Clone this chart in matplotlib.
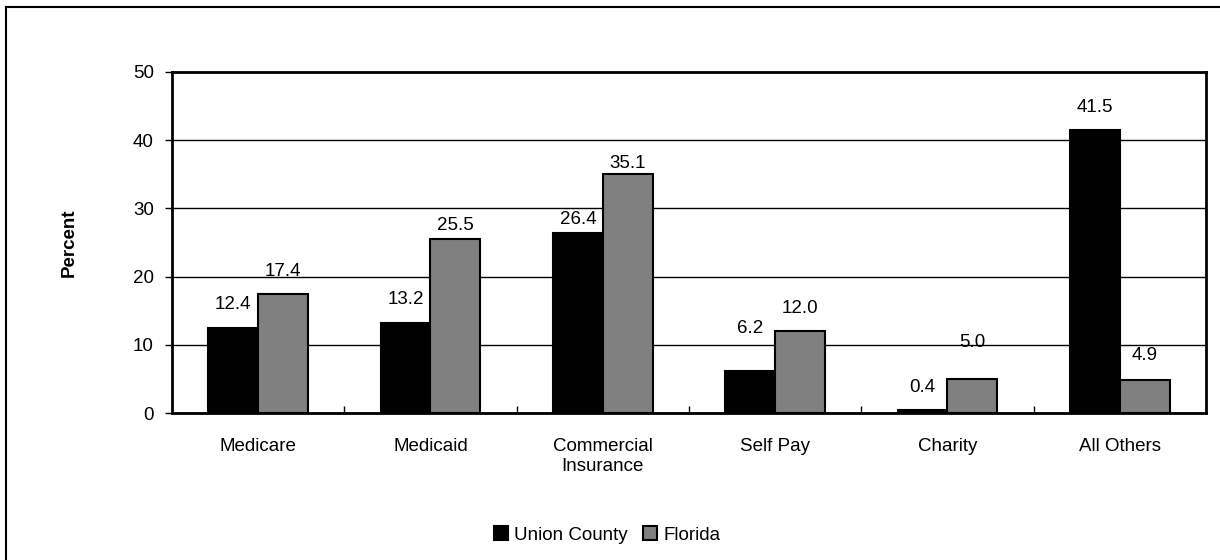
import numpy as np
import matplotlib
matplotlib.use('Agg')
import matplotlib.pyplot as plt
from matplotlib.lines import Line2D

plt.rcParams['font.family'] = ['Liberation Sans', 'DejaVu Sans']

categories = ['Medicare', 'Medicaid', 'Commercial\nInsurance', 'Self Pay', 'Charity', 'All Others']
union_county = [12.4, 13.2, 26.4, 6.2, 0.4, 41.5]
florida = [17.4, 25.5, 35.1, 12.0, 5.0, 4.9]
series_names = ['Union County', 'Florida']

# label lift above each bar top, in pixels (as placed in the original)
lift_union = [24, 23, 13, 42, 23, 22]
lift_florida = [23, 14, 10, 23, 36, 24]

FS = 13.5

fig = plt.figure(figsize=(12.2, 5.6), dpi=100)
ax = fig.add_axes([172 / 1220, 1 - 413 / 560, (1206 - 172) / 1220, (413 - 72) / 560])

# outer frame (left and top only visible)
fig.add_artist(Line2D([6 / 1220, 6 / 1220], [0, 1 - 7 / 560], transform=fig.transFigure, color='black', lw=1.5))
fig.add_artist(Line2D([6 / 1220, 1], [1 - 7 / 560, 1 - 7 / 560], transform=fig.transFigure, color='black', lw=1.5))

x = np.arange(len(categories))
w = 0.29
b1 = ax.bar(x - w / 2, union_county, w, color='black', edgecolor='black', lw=1.5, zorder=3)
b2 = ax.bar(x + w / 2, florida, w, color='#808080', edgecolor='black', lw=1.5, zorder=3)

for bars, vals, lifts in ((b1, union_county, lift_union), (b2, florida, lift_florida)):
    for r, v, d in zip(bars, vals, lifts):
        ax.annotate('%.1f' % v, (r.get_x() + r.get_width() / 2, v), xytext=(0, d * 0.72),
                    textcoords='offset points', ha='center', va='center', fontsize=FS)

ax.set_xlim(-0.5, len(categories) - 0.5)
ax.set_ylim(0, 50)
ax.set_yticks(np.arange(0, 51, 10))
ax.yaxis.grid(True, color='black', lw=1)
ax.set_axisbelow(True)
ax.tick_params(axis='y', labelsize=FS, length=5, width=1, direction='out', pad=8)

ax.set_xticks(x)
ax.set_xticklabels(categories, fontsize=FS, va='top')
ax.tick_params(axis='x', length=0, pad=18)
ax.set_xticks(np.arange(0.5, len(categories) - 1, 1), minor=True)
ax.tick_params(axis='x', which='minor', length=5, width=1, direction='in')

for s in ax.spines.values():
    s.set_linewidth(2)

ax.set_ylabel('Percent', fontsize=FS, fontweight='bold', labelpad=40)

ax.legend([b1, b2], series_names, loc='center', bbox_to_anchor=(607 / 1220, 1 - 535 / 560),
          bbox_transform=fig.transFigure, ncol=2, frameon=False, fontsize=FS,
          handlelength=0.75, handleheight=0.75, handletextpad=0.35, columnspacing=0.8)

fig.savefig('out.png', dpi=100)
